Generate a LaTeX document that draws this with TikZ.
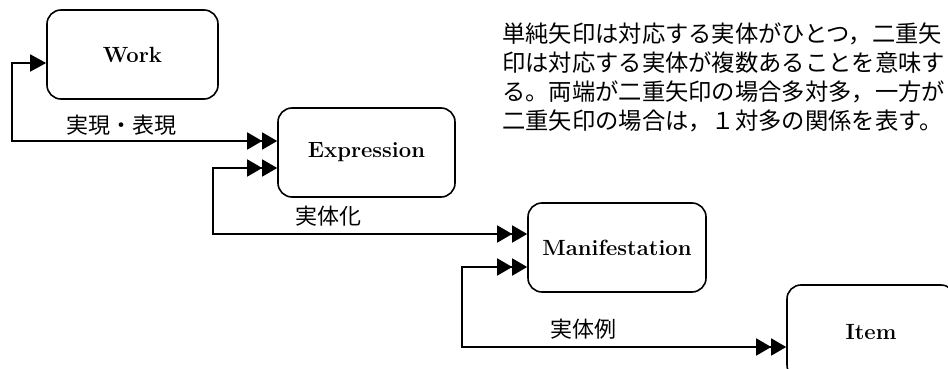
\documentclass[tikz,border=0pt]{standalone}
\usepackage{fontspec}
\newfontfamily\cjk{Noto Sans CJK JP}
\usetikzlibrary{arrows.meta}
\begin{document}
\begin{tikzpicture}[x=1pt,y=-1pt,
  box/.style={draw, line width=1.6pt, rounded corners=14pt, inner sep=0pt,
    font=\bfseries\fontsize{22}{26}\selectfont},
  lbl/.style={font=\cjk\fontsize{22}{26}\selectfont, inner sep=0pt},
  notetext/.style={font=\cjk\fontsize{23.3}{28.7}\selectfont, inner sep=0pt, align=left},
  conn/.style={line width=1.6pt},
  onemany/.style={conn, arrows={Triangle[length=16pt,width=17pt]-Triangle[length=15pt,width=17pt,sep=0pt]Triangle[length=15pt,width=17pt]}},
  manymany/.style={conn, arrows={Triangle[length=15pt,width=17pt,sep=0pt]Triangle[length=15pt,width=17pt]-Triangle[length=15pt,width=17pt,sep=0pt]Triangle[length=15pt,width=17pt]}},
]
\useasboundingbox (0,0) rectangle (948,369);
\clip (0,0) rectangle (948,369);

\node[box, minimum width=171pt, minimum height=89pt] (work) at (132.5,54.5) {Work};
\node[box, minimum width=177pt, minimum height=89pt] (expr) at (366.5,152.5) {Expression};
\node[box, minimum width=178pt, minimum height=89pt] (man) at (617,247.5) {Manifestation};
\node[box, minimum width=168pt, minimum height=94pt] (item) at (871,332) {Item};

\coordinate (k1) at (12,63);
\coordinate (k2) at (213,168);
\coordinate (k3) at (462,267);

\draw[onemany] (work.west |- k1) -- (k1) |- (expr.west |- 0,141);
\draw[manymany] (expr.west |- k2) -- (k2) |- (man.west |- 0,234);
\draw[manymany] (man.west |- k3) -- (k3) |- (item.west |- 0,347);

\node[lbl] (l1) at (121,125) {実現・表現};
\node[lbl] (l2) at (328,216) {実体化};
\node[lbl] (l3) at (583,329) {実体例};

\node[notetext, anchor=north west] (note) at (502,23) {単純矢印は対応する実体がひとつ，二重矢\\印は対応する実体が複数あることを意味す\\る。両端が二重矢印の場合多対多，一方が\\二重矢印の場合は，１対多の関係を表す。};
\end{tikzpicture}
\end{document}
